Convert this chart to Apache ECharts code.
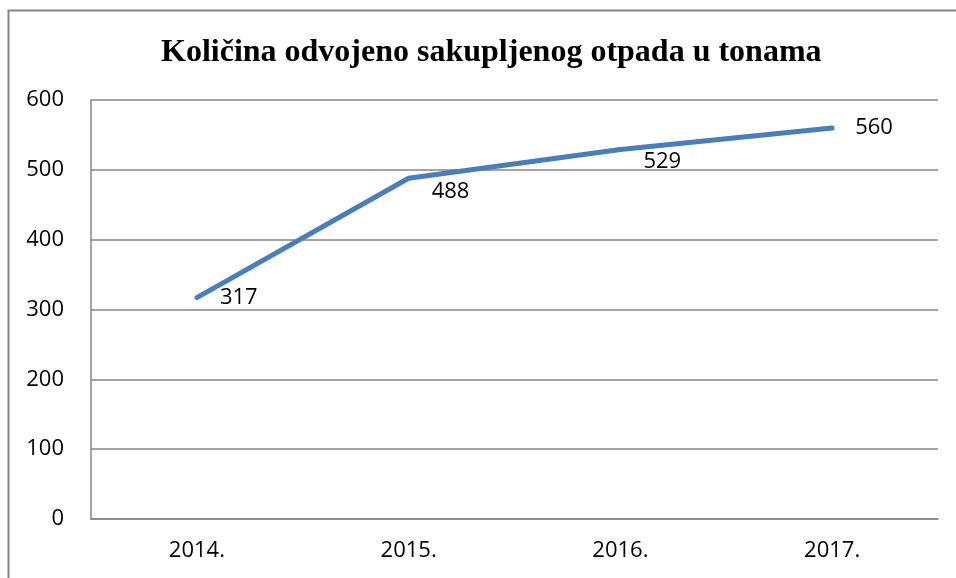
<!DOCTYPE html>
<html>
<head>
<meta charset="utf-8">
<script src="https://cdn.jsdelivr.net/npm/echarts@6/dist/echarts.min.js"></script>
<style>
html, body { margin: 0; padding: 0; background: #fff; }
#main { width: 956px; height: 578px; }
</style>
</head>
<body>
<div id="main"></div>
<script>
// podaci
var years = ['2014.', '2015.', '2016.', '2017.'];
var amounts = [317, 488, 529, 560];
var yTicks = [0, 100, 200, 300, 400, 500, 600];

var labelDy = [0, 14, 12, 0];

var myChart = echarts.init(document.getElementById('main'));
var option = {
	animation: false,
	backgroundColor: '#fff',
	graphic: [{
		type: 'rect',
		shape: { x: 8.5, y: 10.5, width: 960, height: 600 },
		style: { fill: 'none', stroke: '#868686', lineWidth: 2 },
		silent: true
	}],
	title: {
		text: 'Količina odvojeno sakupljenog otpada u tonama',
		left: 156,
		top: 32,
		textStyle: {
			fontFamily: 'Liberation Serif',
			fontWeight: 'bold',
			fontSize: 32,
			color: '#000'
		}
	},
	grid: {
		left: 91,
		right: 18,
		top: 100,
		bottom: 59
	},
	xAxis: {
		type: 'category',
		data: years,
		boundaryGap: true,
		axisLine: { lineStyle: { color: '#868686', width: 1.5 } },
		axisTick: { show: false },
		axisLabel: {
			color: '#000',
			fontFamily: 'Open Sans',
			fontSize: 22,
			margin: 21
		}
	},
	yAxis: {
		type: 'value',
		min: yTicks[0],
		max: yTicks[yTicks.length - 1],
		interval: 100,
		axisLine: { show: true, lineStyle: { color: '#868686', width: 1.5 } },
		axisTick: { show: false },
		splitLine: { lineStyle: { color: '#868686', width: 1.5 } },
		axisLabel: {
			color: '#000',
			fontFamily: 'Open Sans',
			fontSize: 22,
			margin: 27
		}
	},
	series: [{
		type: 'line',
		data: amounts.map(function (v, i) {
			return { value: v, label: { offset: [0, labelDy[i]] } };
		}),
		symbol: 'circle',
		symbolSize: 2,
		lineStyle: { color: '#4a7ebb', width: 5, cap: 'round' },
		itemStyle: { color: 'rgba(74,126,187,0)' },
		label: {
			show: true,
			position: 'right',
			distance: 22,
			color: '#000',
			fontFamily: 'Open Sans',
			fontSize: 22
		}
	}]
};
myChart.setOption(option);
</script>
</body>
</html>
